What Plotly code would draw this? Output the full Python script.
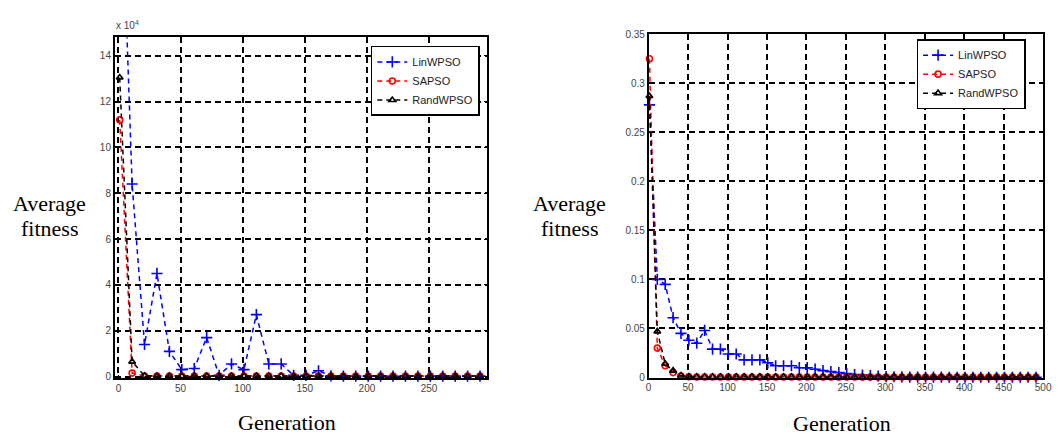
import plotly.graph_objects as go

# ---------------- data ----------------
gen_left = [1, 11, 21, 31, 41, 51, 61, 71, 81, 91, 101, 111, 121, 131, 141,
            151, 161, 171, 181, 191, 201, 211, 221, 231, 241, 251, 261, 271, 281, 291]
linwpso_left = [24.0, 8.4, 1.4, 4.5, 1.1, 0.3, 0.35, 1.7, 0.05, 0.55, 0.3, 2.7, 0.55, 0.55, 0.05,
                0.05, 0.25, 0.03, 0.02, 0.02, 0.02, 0.02, 0.02, 0.02, 0.02, 0.02, 0.02, 0.02, 0.02, 0.02]
sapso_left = [11.2, 0.15, 0.02, 0.02, 0.02, 0.02, 0.02, 0.02, 0.02, 0.02, 0.02, 0.02, 0.02, 0.02, 0.02,
              0.02, 0.02, 0.02, 0.02, 0.02, 0.02, 0.02, 0.02, 0.02, 0.02, 0.02, 0.02, 0.02, 0.02, 0.02]
randwpso_left = [13.05, 0.65, 0.03, 0.02, 0.02, 0.02, 0.02, 0.02, 0.02, 0.02, 0.02, 0.02, 0.02, 0.02, 0.02,
                 0.02, 0.02, 0.02, 0.02, 0.02, 0.02, 0.02, 0.02, 0.02, 0.02, 0.02, 0.02, 0.02, 0.02, 0.02]

gen_right = [1, 11, 21, 31, 41, 51, 61, 71, 81, 91, 101, 111, 121, 131, 141, 151, 161, 171, 181, 191,
             201, 211, 221, 231, 241, 251, 261, 271, 281, 291, 301, 311, 321, 331, 341, 351, 361, 371, 381, 391,
             401, 411, 421, 431, 441, 451, 461, 471, 481, 491]
linwpso_right = [0.278, 0.100, 0.095, 0.061, 0.045, 0.038, 0.035, 0.048, 0.029, 0.029,
                 0.024, 0.024, 0.018, 0.018, 0.018, 0.015, 0.012, 0.012, 0.012, 0.010,
                 0.010, 0.0085, 0.007, 0.006, 0.005, 0.004, 0.003, 0.0025, 0.002, 0.0015,
                 0.001, 0.0008, 0.0006, 0.0005, 0.0005, 0.0004, 0.0004, 0.0004, 0.0003, 0.0003,
                 0.0003, 0.0003, 0.0003, 0.0003, 0.0003, 0.0003, 0.0003, 0.0003, 0.0003, 0.0003]
sapso_right = [0.325, 0.030, 0.012, 0.005, 0.0015, 0.0008, 0.0005, 0.0005, 0.0005, 0.0005,
               0.0005, 0.0005, 0.0005, 0.0005, 0.0005, 0.0005, 0.0005, 0.0005, 0.0005, 0.0005,
               0.0005, 0.0005, 0.0005, 0.0005, 0.0005, 0.0005, 0.0005, 0.0005, 0.0005, 0.0005,
               0.0005, 0.0005, 0.0005, 0.0005, 0.0005, 0.0005, 0.0005, 0.0005, 0.0005, 0.0005,
               0.0005, 0.0005, 0.0005, 0.0005, 0.0005, 0.0005, 0.0005, 0.0005, 0.0005, 0.0005]
randwpso_right = [0.287, 0.047, 0.014, 0.007, 0.002, 0.001, 0.0006, 0.0006, 0.0006, 0.0006,
                  0.0006, 0.0006, 0.0006, 0.0006, 0.0006, 0.0006, 0.0006, 0.0006, 0.0006, 0.0006,
                  0.0006, 0.0006, 0.0006, 0.0006, 0.0006, 0.0006, 0.0006, 0.0006, 0.0006, 0.0006,
                  0.0006, 0.0006, 0.0006, 0.0006, 0.0006, 0.0006, 0.0006, 0.0006, 0.0006, 0.0006,
                  0.0006, 0.0006, 0.0006, 0.0006, 0.0006, 0.0006, 0.0006, 0.0006, 0.0006, 0.0006]

series_names = ["LinWPSO", "SAPSO", "RandWPSO"]
left_ticks_x = [0, 50, 100, 150, 200, 250]
left_ticks_y = [0, 2, 4, 6, 8, 10, 12, 14]
right_ticks_x = [0, 50, 100, 150, 200, 250, 300, 350, 400, 450, 500]
right_ticks_y = [0, 0.05, 0.1, 0.15, 0.2, 0.25, 0.3, 0.35]
right_tick_text = ["0", "0.05", "0.1", "0.15", "0.2", "0.25", "0.3", "0.35"]

# ---------------- styles ----------------
styles = [
    dict(color="#0000ff", symbol="cross-thin", size=8),
    dict(color="#ff0000", symbol="circle-open", size=6),
    dict(color="#000000", symbol="triangle-up-open", size=6),
]

W, H = 1063, 443

fig = go.Figure()

left_data = [linwpso_left, sapso_left, randwpso_left]
right_data = [linwpso_right, sapso_right, randwpso_right]

for name, ys, st in zip(series_names, left_data, styles):
    fig.add_trace(go.Scatter(
        x=gen_left, y=ys, name=name, mode="lines+markers",
        line=dict(color=st["color"], width=1.5, dash="5px,4px"),
        marker=dict(symbol=st["symbol"], size=st["size"], color=st["color"],
                    line=dict(color=st["color"], width=1.6)),
        cliponaxis=False, xaxis="x", yaxis="y", legend="legend"))

for name, ys, st in zip(series_names, right_data, styles):
    fig.add_trace(go.Scatter(
        x=gen_right, y=ys, name=name, mode="lines+markers",
        line=dict(color=st["color"], width=1.5, dash="5px,4px"),
        marker=dict(symbol=st["symbol"], size=st["size"], color=st["color"],
                    line=dict(color=st["color"], width=1.6)),
        cliponaxis=False, xaxis="x2", yaxis="y2", legend="legend2"))

tickfont = dict(family="Liberation Sans, Arial", size=10, color="#444")
axis_common = dict(
    showline=True, linecolor="black", linewidth=1.5, mirror="allticks",
    ticks="inside", ticklen=4, tickwidth=1, tickcolor="black",
    showgrid=True, gridcolor="black", gridwidth=1.5, griddash="6px,4px",
    zeroline=False, tickfont=tickfont,
)


def px_x(p):
    return p / W


def px_y(p):
    return 1 - p / H


legend_font = dict(family="Liberation Sans, Arial", size=11, color="#222")

fig.update_layout(
    width=W, height=H,
    margin=dict(l=0, r=0, t=0, b=0),
    paper_bgcolor="white", plot_bgcolor="white",
    xaxis=dict(domain=[px_x(113), px_x(490)], range=[-3, 297], anchor="y",
               tickvals=left_ticks_x, **axis_common),
    yaxis=dict(domain=[px_y(383), px_y(33)], range=[-0.085, 14.81], anchor="x",
               tickvals=left_ticks_y, **axis_common),
    xaxis2=dict(domain=[px_x(653), px_x(1052)], range=[0, 500], anchor="y2",
                tickvals=right_ticks_x, **axis_common),
    yaxis2=dict(domain=[px_y(382), px_y(30)], range=[0, 0.35], anchor="x2",
                tickvals=right_ticks_y, ticktext=right_tick_text, **axis_common),
    legend=dict(x=px_x(372), y=px_y(42), xanchor="left", yanchor="top",
                bgcolor="white", bordercolor="black", borderwidth=1.5,
                font=legend_font, itemwidth=30, tracegroupgap=0),
    legend2=dict(x=px_x(924), y=px_y(35), xanchor="left", yanchor="top",
                 bgcolor="white", bordercolor="black", borderwidth=1.5,
                 font=legend_font, itemwidth=30, tracegroupgap=0),
    showlegend=True,
)

serif = dict(family="Liberation Serif, Times New Roman", size=22, color="black")
annotations = [
    dict(text="Average", x=px_x(47), y=px_y(204)),
    dict(text="fitness", x=px_x(47), y=px_y(229)),
    dict(text="Average", x=px_x(573), y=px_y(204)),
    dict(text="fitness", x=px_x(573), y=px_y(229)),
    dict(text="Generation", x=px_x(287), y=px_y(428)),
    dict(text="Generation", x=px_x(849), y=px_y(429)),
]
for a in annotations:
    fig.add_annotation(xref="paper", yref="paper", showarrow=False,
                       xanchor="center", yanchor="middle", font=serif, **a)

fig.add_annotation(xref="paper", yref="paper", showarrow=False,
                   x=px_x(112), y=px_y(20), xanchor="left", yanchor="middle",
                   text="x 10<sup>4</sup>",
                   font=dict(family="Liberation Sans, Arial", size=10, color="#444"))

fig.write_html("out.html")
